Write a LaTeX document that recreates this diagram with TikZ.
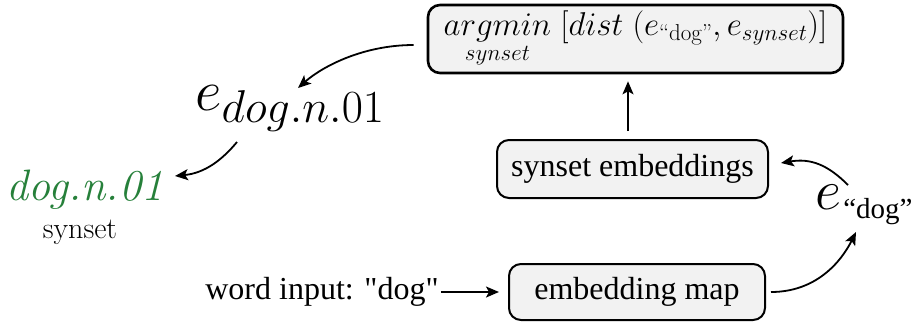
\RequirePackage{fix-cm}
\documentclass[tikz,border=0pt]{standalone}
\usepackage{amsmath}
\usepackage{fontspec}
\newfontfamily\tms{Liberation Serif}
\usetikzlibrary{arrows.meta,calc}
\DeclareMathSizes{58}{58}{46}{34}
\DeclareMathSizes{33}{33}{23}{16}
\definecolor{syngreen}{RGB}{38,128,58}
\definecolor{boxgray}{RGB}{242,242,242}
\begin{document}
\begin{tikzpicture}[x=1pt,y=-1pt,
  box/.style={draw, rounded corners=12pt, fill=boxgray, line width=2pt, inner sep=0pt},
  arr/.style={-{Stealth[length=13pt,width=11pt,inset=3pt]}, line width=1.8pt},
  lbl/.style={inner sep=0pt}]
\useasboundingbox (0,0) rectangle (916,322);
\node[box, line width=2.6pt, minimum width=415pt, minimum height=68pt] (top) at (635.5,39)
  {\fontsize{33}{36}\selectfont $\underset{synset}{argmin}\;[dist\;(e_{\text{``dog''}}, e_{synset})]$};
\node[box, minimum width=271pt, minimum height=58pt] (se) at (632.5,169)
  {\tms\fontsize{32}{36}\selectfont synset embeddings};
\node[box, minimum width=256pt, minimum height=56pt] (em) at (637,292)
  {\tms\fontsize{32}{36}\selectfont embedding map};
\node[lbl] (wi) at (322,292) {\tms\fontsize{32}{36}\selectfont word input: "dog"};
\node[lbl] (edn) at (290,108) {\fontsize{58}{60}\selectfont $e_{dog.n.01}$};
\node[lbl, text=syngreen] (dog) at (85,190) {\fontsize{44}{48}\selectfont\itshape dog.n.01};
\node[lbl] (syn) at (80,232) {\fontsize{30}{33}\selectfont synset};
\node[lbl] (ed) at (864,205) {\fontsize{57}{60}\selectfont $e$\hspace{2pt}\raisebox{-9pt}{\tms\fontsize{29}{30}\selectfont “dog”}};

\draw[arr] ($(top.west)+(-13,6)$) .. controls +(-50,0) and +(25,-22) .. ($(edn.center)+(8,-20)$);
\draw[arr] ($(edn.center)+(-53,34)$) .. controls +(-15,18) and +(30,-3) .. ($(dog.center)+(90,-14)$);
\draw[arr] ($(se.north)+(-4.5,-8)$) -- ($(top.south)+(-7.5,7)$);
\draw[arr] ($(ed.center)+(-16,-20)$) .. controls +(-20,-20) and +(30,-5) .. ($(se.east)+(12,-6)$);
\draw[arr] ($(em.east)+(5,0)$) .. controls +(45,0) and +(-15,30) .. ($(ed.center)+(-8,27)$);
\draw[arr] ($(wi.east)+(2,0)$) -- ($(em.west)+(-9,0)$);
\end{tikzpicture}
\end{document}
